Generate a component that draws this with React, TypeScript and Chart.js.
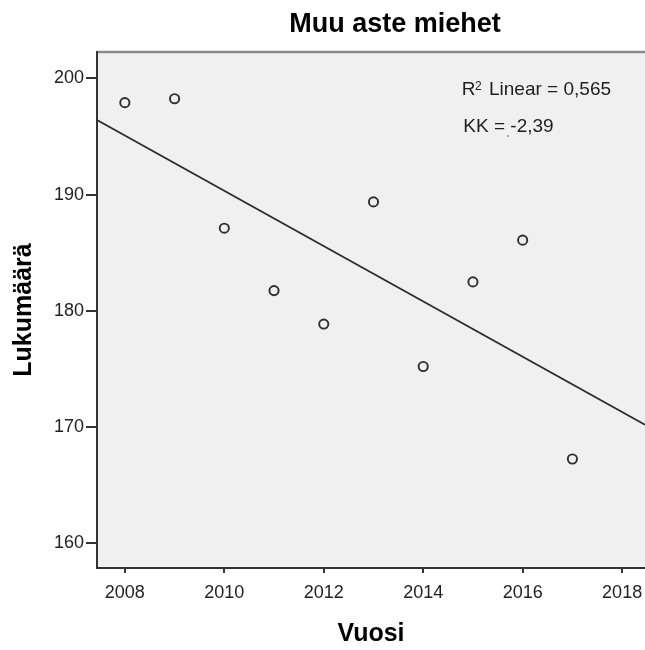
import React, { useEffect, useRef } from "react";
import { Chart, registerables } from "chart.js";

Chart.register(...registerables);

// ---- data ----
const years = [2008, 2009, 2010, 2011, 2012, 2013, 2014, 2015, 2016, 2017];
const counts = [197.92, 198.26, 187.12, 181.75, 178.87, 189.38, 175.22, 182.5, 186.09, 167.26];
const fitYears = [2007.44, 2018.46];
const fitCounts = [196.43, 170.21];
const xTicks = [2008, 2010, 2012, 2014, 2016, 2018];
const yTicks = [160, 170, 180, 190, 200];
const xRange = [2007.44, 2018.46];
const yRange = [157.88, 202.28];
const titleText = "Muu aste miehet";
const xTitle = "Vuosi";
const yTitle = "Lukumäärä";
const r2Text = "Linear = 0,565";
const kkText = "KK = -2,39";

const FONT = '"Liberation Sans", Arial, sans-serif';

const decor = {
  id: "decor",
  beforeDraw(chart: any) {
    const { ctx, chartArea: a } = chart;
    ctx.save();
    ctx.fillStyle = "#f0f0f0";
    ctx.fillRect(a.left, a.top, a.right - a.left, a.bottom - a.top);
    ctx.strokeStyle = "#8a8a8a";
    ctx.lineWidth = 2.5;
    ctx.beginPath();
    ctx.moveTo(a.left, a.top);
    ctx.lineTo(a.right, a.top);
    ctx.stroke();
    ctx.restore();
  },
  afterDraw(chart: any) {
    const { ctx } = chart;
    ctx.save();
    ctx.fillStyle = "#000";
    ctx.textBaseline = "alphabetic";
    ctx.textAlign = "center";
    ctx.font = `bold 27px ${FONT}`;
    ctx.fillText(titleText, 395, 32);

    ctx.textAlign = "left";
    ctx.fillStyle = "#1e1e1e";
    ctx.font = `19px ${FONT}`;
    ctx.fillText("R", 461.7, 95);
    ctx.font = `12px ${FONT}`;
    ctx.fillText("2", 475, 89.5);
    ctx.font = `19px ${FONT}`;
    ctx.fillText(r2Text, 489, 95);
    ctx.fillText(kkText, 463.3, 131.5);
    ctx.fillStyle = "#aaa";
    ctx.fillRect(507, 135, 2, 2);
    ctx.restore();
  },
};

export default function App() {
  const ref = useRef<HTMLCanvasElement | null>(null);

  useEffect(() => {
    document.body.style.margin = "0";
    const canvas = ref.current;
    if (!canvas) return;
    const chart = new Chart(canvas, {
      type: "scatter",
      data: {
        datasets: [
          {
            label: "Lukumäärä",
            data: years.map((y, i) => ({ x: y, y: counts[i] })),
            pointStyle: "circle",
            pointRadius: 4.6,
            pointBorderWidth: 1.9,
            borderColor: "#2e2e2e",
            backgroundColor: "rgba(0,0,0,0)",
            pointBackgroundColor: "rgba(0,0,0,0)",
            pointBorderColor: "#2e2e2e",
          } as any,
          {
            label: "Linear",
            type: "line",
            data: fitYears.map((y, i) => ({ x: y, y: fitCounts[i] })),
            showLine: true,
            pointRadius: 0,
            borderColor: "#2b2b2b",
            borderWidth: 1.8,
            fill: false,
          } as any,
        ],
      },
      options: {
        responsive: false,
        animation: false,
        devicePixelRatio: 1,
        layout: { autoPadding: false, padding: { top: 52, left: 0, right: 0, bottom: 0 } },
        plugins: {
          legend: { display: false },
          title: { display: false },
          tooltip: { enabled: false },
        },
        scales: {
          x: {
            type: "linear",
            min: xRange[0],
            max: xRange[1],
            afterBuildTicks: (s: any) => {
              s.ticks = xTicks.map((v) => ({ value: v }));
            },
            afterFit: (s: any) => {
              s.height = 82;
              s.paddingLeft = 0;
              s.paddingRight = 0;
            },
            grid: {
              drawOnChartArea: false,
              drawTicks: true,
              tickLength: 5,
              color: "#333",
              lineWidth: 2,
            },
            border: { display: true, color: "#333", width: 2 },
            ticks: {
              padding: 9,
              color: "#222",
              font: { family: FONT, size: 18 },
              maxRotation: 0,
              callback: (v: any) => String(v),
            },
            title: {
              display: true,
              text: xTitle,
              color: "#000",
              font: { family: FONT, size: 25, weight: "bold" },
              padding: { top: 0, bottom: 1 },
            },
          },
          y: {
            type: "linear",
            min: yRange[0],
            max: yRange[1],
            afterBuildTicks: (s: any) => {
              s.ticks = yTicks.map((v) => ({ value: v }));
            },
            afterFit: (s: any) => {
              s.width = 97;
              s.paddingTop = 0;
              s.paddingBottom = 0;
            },
            grid: {
              drawOnChartArea: false,
              drawTicks: true,
              tickLength: 11,
              color: "#333",
              lineWidth: 2,
            },
            border: { display: true, color: "#333", width: 2 },
            ticks: {
              padding: 2,
              color: "#222",
              font: { family: FONT, size: 18 },
              callback: (v: any) => String(v),
            },
            title: {
              display: true,
              text: yTitle,
              color: "#000",
              font: { family: FONT, size: 25, weight: "bold" },
              padding: { top: 9, bottom: 0 },
            },
          },
        },
      } as any,
      plugins: [decor],
    });
    return () => chart.destroy();
  }, []);

  return (
    <div style={{ position: "absolute", left: 0, top: 0, width: 645, height: 650 }}>
      <canvas ref={ref} width={645} height={650} style={{ display: "block" }} />
    </div>
  );
}
